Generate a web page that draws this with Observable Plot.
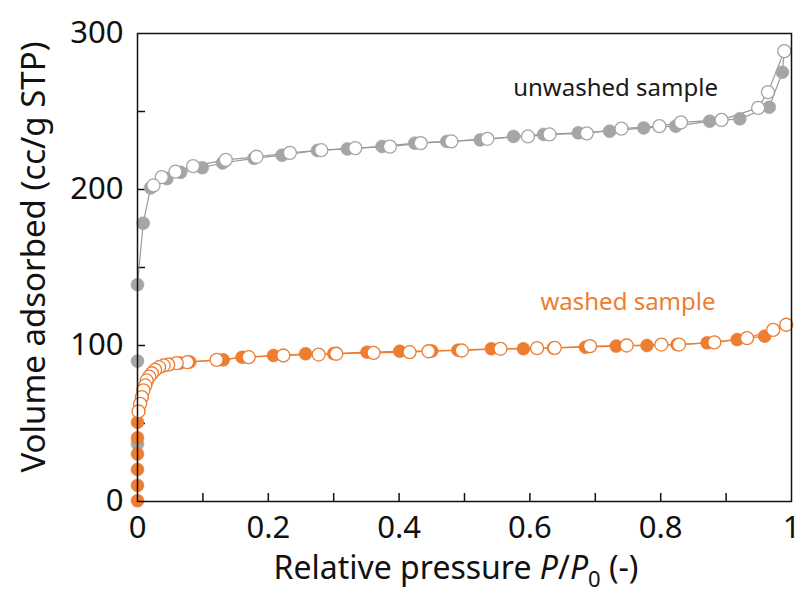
<!DOCTYPE html>
<html><head><meta charset="utf-8">
<script src="https://cdn.jsdelivr.net/npm/d3@7"></script>
<script src="https://cdn.jsdelivr.net/npm/@observablehq/plot@0.6"></script>
<style>body{margin:0;background:#fff} svg{display:block}</style>
</head><body><div id="chart"></div>
<script>
// ---- data ----
// unwashed sample, adsorption (filled grey)
const unwashedAdsX = [0, 0, 0, 0.0087, 0.02, 0.045, 0.066, 0.099, 0.13, 0.178, 0.221, 0.275, 0.321, 0.374, 0.424, 0.473, 0.524, 0.575, 0.621, 0.674, 0.722, 0.774, 0.823, 0.875, 0.921, 0.966, 0.986, 0.989];
const unwashedAdsY = [37, 90, 139, 178.4, 201, 207, 211, 214, 217, 220, 222, 225, 226, 227.6, 229.7, 230.8, 231.8, 234, 235.3, 236.3, 237.4, 239.5, 240.6, 243.8, 245.3, 252.8, 275.2, 288.7];
// unwashed sample, desorption (open grey)
const unwashedDesX = [0.989, 0.964, 0.949, 0.893, 0.831, 0.798, 0.740, 0.687, 0.630, 0.597, 0.535, 0.480, 0.433, 0.386, 0.333, 0.281, 0.233, 0.182, 0.135, 0.085, 0.058, 0.037, 0.0244];
const unwashedDesY = [288.7, 262.4, 252.3, 244.6, 243, 240.6, 239, 236, 235.3, 234, 232.5, 230.8, 229.7, 227.5, 226.5, 225.2, 223.5, 221, 219, 215, 211.5, 207.9, 202.6];
// washed sample, adsorption (filled orange)
const washedAdsX = [0, 0, 0, 0, 0, 0, 0.002, 0.004, 0.007, 0.009, 0.012, 0.015, 0.018, 0.022, 0.027, 0.033, 0.04, 0.05, 0.065, 0.08, 0.131, 0.160, 0.208, 0.257, 0.30, 0.351, 0.401, 0.45, 0.49, 0.541, 0.590, 0.636, 0.685, 0.732, 0.779, 0.825, 0.871, 0.917, 0.959, 0.992];
const washedAdsY = [0.5, 10.3, 20.5, 30.5, 40.8, 50.8, 58, 62.6, 67, 71, 74.5, 77.5, 80, 82, 84.3, 86, 87.2, 88, 88.8, 89.5, 90.8, 92.5, 93.6, 94.7, 94.8, 95.7, 96.3, 96.5, 97, 97.9, 97.9, 98.4, 98.9, 99.6, 100, 100.6, 101.7, 103.8, 106, 113.3];
// washed sample, desorption (open orange)
const washedDesX = [0.992, 0.972, 0.932, 0.882, 0.828, 0.801, 0.748, 0.692, 0.638, 0.611, 0.555, 0.496, 0.445, 0.416, 0.361, 0.304, 0.277, 0.223, 0.170, 0.121, 0.076, 0.060, 0.047, 0.040, 0.033, 0.027, 0.022, 0.018, 0.014, 0.012, 0.009, 0.0066, 0.004, 0.0015];
const washedDesY = [113.3, 110, 104.7, 102, 100.6, 100.6, 100, 99.6, 98.5, 98.3, 97.9, 96.8, 96.3, 95.7, 95.3, 94.7, 94.2, 93.6, 92.5, 90.8, 89.3, 88.7, 87.8, 87.2, 86.1, 84.4, 82.2, 80.1, 77.6, 74.4, 71.2, 66.9, 62.6, 57.7];

const xTickLabels = [0, 0.2, 0.4, 0.6, 0.8, 1];
const xTickMarks = [0.1, 0.2, 0.3, 0.4, 0.5, 0.6, 0.7, 0.8, 0.9];
const yTickLabels = [0, 100, 200, 300];
const yTickMarks = [50, 100, 150, 200, 250];

const seriesLabels = [
  {name: "unwashed sample", x: 0.731, y: 264.7, color: "#1a1a1a"},
  {name: "washed sample", x: 0.750, y: 127.6, color: "#ED7D31"}
];

// ---- build ----
const pts = (xs, ys) => xs.map((x, i) => ({x, y: ys[i]}));
const uA = pts(unwashedAdsX, unwashedAdsY), uD = pts(unwashedDesX, unwashedDesY);
const wA = pts(washedAdsX, washedAdsY), wD = pts(washedDesX, washedDesY);

const GREY = "#A5A5A5", GREYLINE = "#9a9a9a", ORANGE = "#ED7D31";
const FONT = "'Noto Sans', 'Open Sans', sans-serif";
const W = 799, H = 598, ML = 137, MR = 8, MT = 33, MB = 97;
const FW = W - ML - MR, FH = H - MT - MB;
const R = 6.5;

const svg = Plot.plot({
  width: W, height: H,
  marginLeft: ML, marginRight: MR, marginTop: MT, marginBottom: MB,
  x: {domain: [0, 1]},
  y: {domain: [0, 300]},
  style: {fontFamily: FONT, background: "white", color: "#111", overflow: "visible"},
  marks: [
    Plot.tickX(xTickMarks, {x: d => d, insetTop: FH - 8, stroke: "#111", strokeWidth: 1.5}),
    Plot.tickY(yTickMarks, {y: d => d, insetRight: FW - 8, stroke: "#111", strokeWidth: 1.5}),
    Plot.axisX({ticks: xTickLabels, tickSize: 0, tickPadding: 14, fontSize: 31, label: null, tickFormat: d => String(d)}),
    Plot.axisY({ticks: yTickLabels, tickSize: 0, tickPadding: 14, fontSize: 31, label: null, tickFormat: d => String(d)}),
    Plot.line(uA, {x: "x", y: "y", stroke: GREYLINE, strokeWidth: 1.2}),
    Plot.line(uD, {x: "x", y: "y", stroke: GREYLINE, strokeWidth: 1.2}),
    Plot.dot(uA, {x: "x", y: "y", r: R, fill: GREY, stroke: GREY, strokeWidth: 0.5}),
    Plot.dot(uD, {x: "x", y: "y", r: R, fill: "white", stroke: GREY, strokeWidth: 1.3}),
    Plot.line(wA, {x: "x", y: "y", stroke: ORANGE, strokeWidth: 1.2}),
    Plot.line(wD, {x: "x", y: "y", stroke: ORANGE, strokeWidth: 1.2}),
    Plot.dot(wA, {x: "x", y: "y", r: R, fill: ORANGE, stroke: ORANGE, strokeWidth: 0.5}),
    Plot.dot(wD, {x: "x", y: "y", r: R, fill: "white", stroke: ORANGE, strokeWidth: 1.3}),
    Plot.text(seriesLabels, {x: "x", y: "y", text: "name", fill: "color", fontSize: 24, textAnchor: "middle"}),
    Plot.frame({stroke: "#111", strokeWidth: 1.5})
  ]
});

const s = d3.select(svg);
// y axis title
s.append("text")
  .attr("transform", "translate(45,257) rotate(-90)")
  .attr("text-anchor", "middle")
  .attr("font-family", FONT).attr("font-size", 33).attr("fill", "#111")
  .text("Volume adsorbed (cc/g STP)");
// x axis title with italic P and subscript 0
const xt = s.append("text")
  .attr("x", 456).attr("y", 579)
  .attr("text-anchor", "middle")
  .attr("font-family", FONT).attr("font-size", 32).attr("fill", "#111");
xt.append("tspan").text("Relative pressure ");
xt.append("tspan").attr("font-style", "italic").text("P");
xt.append("tspan").text("/");
xt.append("tspan").attr("font-style", "italic").text("P");
xt.append("tspan").attr("font-size", 22).attr("dy", 8).text("0");
xt.append("tspan").attr("dy", -8).text(" (-)");

document.getElementById("chart").appendChild(svg);
</script>
</body></html>
